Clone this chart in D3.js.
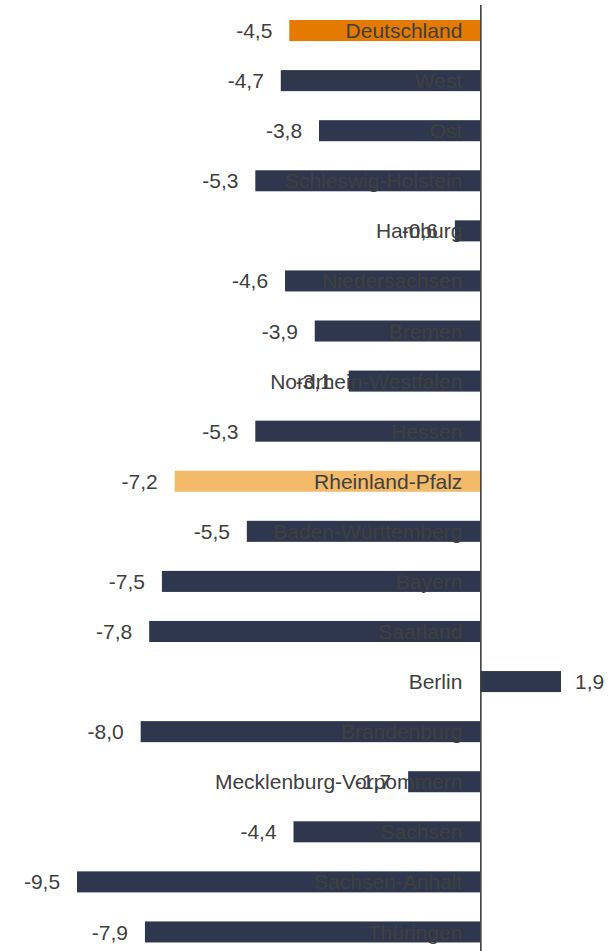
<!DOCTYPE html>
<html>
<head>
<meta charset="utf-8">
<script src="https://cdn.jsdelivr.net/npm/d3@7"></script>
<style>
  body { margin: 0; background: #fff; }
  text { font-family: "Liberation Sans", Arial, sans-serif; }
</style>
</head>
<body>
<div id="chart"></div>
<script>
// data
const regions = ['Deutschland', 'West', 'Ost', 'Schleswig-Holstein', 'Hamburg', 'Niedersachsen',
  'Bremen', 'Nordrhein-Westfalen', 'Hessen', 'Rheinland-Pfalz', 'Baden-Württemberg', 'Bayern',
  'Saarland', 'Berlin', 'Brandenburg', 'Mecklenburg-Vorpommern', 'Sachsen', 'Sachsen-Anhalt', 'Thüringen'];
const changes = [-4.5, -4.7, -3.8, -5.3, -0.6, -4.6, -3.9, -3.1, -5.3, -7.2, -5.5, -7.5, -7.8, 1.9,
  -8.0, -1.7, -4.4, -9.5, -7.9];
const highlight = {'Deutschland': '#E57A00', 'Rheinland-Pfalz': '#F2BA69'};

const FRAME_WIDTH = 613;
const FRAME_HEIGHT = 951;
const BAR_COLOR = '#2E374D';
const TEXT_COLOR = '#404040';

const data = regions.map((r, i) => ({name: r, value: changes[i]}));

const svg = d3.select('#chart')
  .append('svg')
  .attr('width', FRAME_WIDTH)
  .attr('height', FRAME_HEIGHT);

const x = d3.scaleLinear()
  .domain([-9.5, 1.9])
  .range([77, 561]);

const y = d3.scaleBand()
  .domain(regions)
  .range([5.5, 957])
  .paddingInner(0.58)
  .paddingOuter(0.29);

// bars
svg.selectAll('rect.bar')
  .data(data)
  .join('rect')
  .attr('class', 'bar')
  .attr('x', d => x(Math.min(0, d.value)))
  .attr('y', d => y(d.name))
  .attr('width', d => Math.abs(x(d.value) - x(0)))
  .attr('height', y.bandwidth())
  .attr('fill', d => highlight[d.name] || BAR_COLOR);

// category names, right aligned next to the axis
svg.selectAll('text.name')
  .data(data)
  .join('text')
  .attr('class', 'name')
  .attr('x', x(0) - 18)
  .attr('y', d => y(d.name) + y.bandwidth() / 2)
  .attr('dy', '0.36em')
  .attr('text-anchor', 'end')
  .attr('font-size', 21)
  .attr('fill', TEXT_COLOR)
  .text(d => d.name);

// value labels
const fmt = v => d3.format('.1f')(v).replace('.', ',').replace('−', '-');
svg.selectAll('text.value')
  .data(data)
  .join('text')
  .attr('class', 'value')
  .attr('x', d => d.value < 0 ? x(d.value) - 35 : x(d.value) + 14)
  .attr('y', d => y(d.name) + y.bandwidth() / 2)
  .attr('dy', '0.36em')
  .attr('text-anchor', d => d.value < 0 ? 'middle' : 'start')
  .attr('font-size', 21)
  .attr('fill', TEXT_COLOR)
  .text(d => fmt(d.value));

// zero line
svg.append('line')
  .attr('x1', x(0) + 0.5)
  .attr('x2', x(0) + 0.5)
  .attr('y1', 5)
  .attr('y2', FRAME_HEIGHT)
  .attr('stroke', TEXT_COLOR)
  .attr('stroke-width', 1.6);
</script>
</body>
</html>
